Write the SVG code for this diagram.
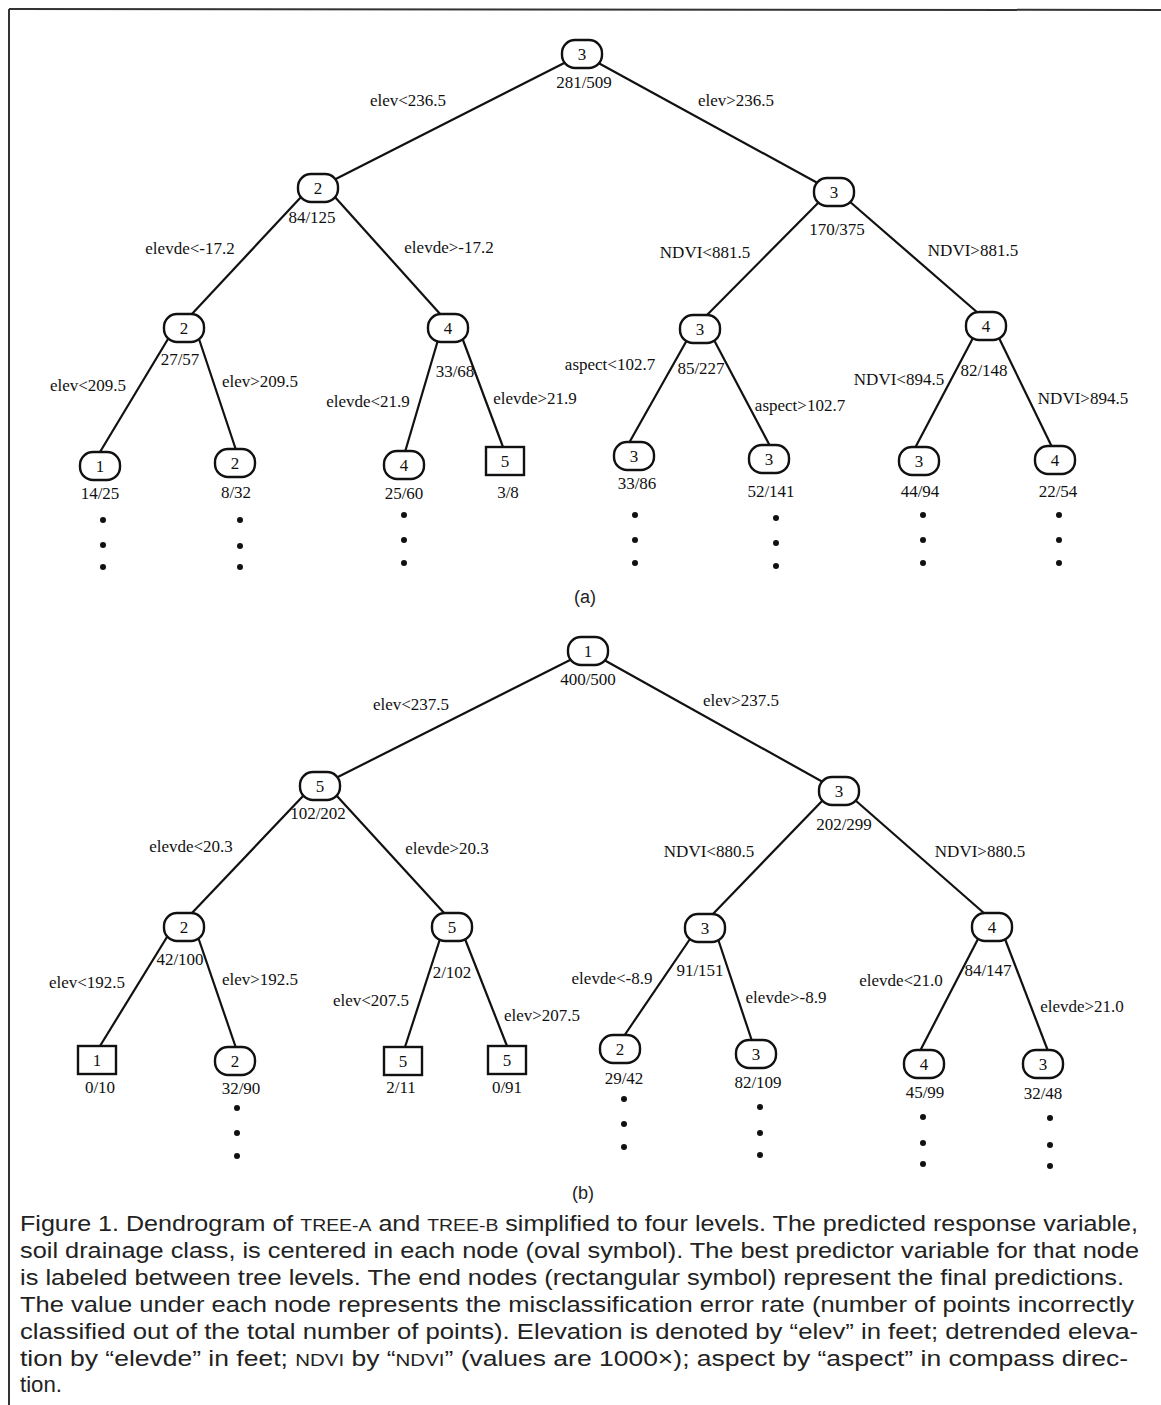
<svg xmlns="http://www.w3.org/2000/svg" width="1161" height="1405" viewBox="0 0 1161 1405">
<style>
.t{font-family:"Liberation Serif","Times New Roman",serif;font-size:17px;fill:#111;text-anchor:middle}
.d{font-family:"Liberation Serif","Times New Roman",serif;font-size:17px;fill:#111;text-anchor:middle}
.e line{stroke:#111;stroke-width:2.2}
.dots circle{fill:#111}
.cap{font-family:"Liberation Sans",Arial,sans-serif;font-size:22px;fill:#222}
.sub{font-family:"Liberation Sans",Arial,sans-serif;font-size:18px;fill:#222;text-anchor:middle}
</style>
<defs>
<rect id="ov" x="-20" y="-14" width="40" height="28" rx="13" ry="13" fill="#fff" stroke="#111" stroke-width="2.4"/>
<rect id="sq" x="-19" y="-14" width="38" height="28" fill="#fff" stroke="#111" stroke-width="2.4"/>
</defs>
<g id="frame" stroke="#333" stroke-width="2">
<line x1="9" y1="9" x2="1161" y2="10"/>
<line x1="9" y1="9" x2="9" y2="1405"/>
</g>
<g id="connectors" class="e">
<line x1="582" y1="54" x2="318" y2="188"/>
<line x1="582" y1="54" x2="834" y2="192"/>
<line x1="302" y1="196" x2="191" y2="315"/>
<line x1="334" y1="196" x2="441" y2="315"/>
<line x1="820" y1="201" x2="706" y2="316"/>
<line x1="849" y1="201" x2="978" y2="313"/>
<line x1="168" y1="339" x2="100" y2="452"/>
<line x1="199" y1="339" x2="236" y2="450"/>
<line x1="438" y1="340" x2="405" y2="452"/>
<line x1="463" y1="340" x2="503" y2="447"/>
<line x1="687" y1="340" x2="629" y2="443"/>
<line x1="714" y1="340" x2="770" y2="446"/>
<line x1="973" y1="338" x2="915" y2="448"/>
<line x1="999" y1="338" x2="1052" y2="447"/>
<line x1="588" y1="651" x2="320" y2="786"/>
<line x1="588" y1="651" x2="839" y2="791"/>
<line x1="304" y1="795" x2="191" y2="914"/>
<line x1="336" y1="795" x2="445" y2="914"/>
<line x1="823" y1="800" x2="712" y2="915"/>
<line x1="855" y1="800" x2="985" y2="914"/>
<line x1="167" y1="937" x2="100" y2="1046"/>
<line x1="198" y1="937" x2="236" y2="1048"/>
<line x1="440" y1="939" x2="405" y2="1047"/>
<line x1="465" y1="939" x2="507" y2="1046"/>
<line x1="690" y1="939" x2="624" y2="1036"/>
<line x1="718" y1="939" x2="752" y2="1041"/>
<line x1="978" y1="939" x2="920" y2="1051"/>
<line x1="1005" y1="939" x2="1048" y2="1051"/>
</g>
<g id="edge-labels" class="t">
<text x="408" y="106">elev&lt;236.5</text>
<text x="736" y="106">elev&gt;236.5</text>
<text x="190" y="254">elevde&lt;-17.2</text>
<text x="449" y="253">elevde&gt;-17.2</text>
<text x="705" y="258">NDVI&lt;881.5</text>
<text x="973" y="256">NDVI&gt;881.5</text>
<text x="88" y="391">elev&lt;209.5</text>
<text x="260" y="387">elev&gt;209.5</text>
<text x="368" y="407">elevde&lt;21.9</text>
<text x="535" y="404">elevde&gt;21.9</text>
<text x="610" y="370">aspect&lt;102.7</text>
<text x="800" y="411">aspect&gt;102.7</text>
<text x="899" y="385">NDVI&lt;894.5</text>
<text x="1083" y="404">NDVI&gt;894.5</text>
<text x="411" y="710">elev&lt;237.5</text>
<text x="741" y="706">elev&gt;237.5</text>
<text x="191" y="852">elevde&lt;20.3</text>
<text x="447" y="854">elevde&gt;20.3</text>
<text x="709" y="857">NDVI&lt;880.5</text>
<text x="980" y="857">NDVI&gt;880.5</text>
<text x="87" y="988">elev&lt;192.5</text>
<text x="260" y="985">elev&gt;192.5</text>
<text x="371" y="1006">elev&lt;207.5</text>
<text x="542" y="1021">elev&gt;207.5</text>
<text x="612" y="984">elevde&lt;-8.9</text>
<text x="786" y="1003">elevde&gt;-8.9</text>
<text x="901" y="986">elevde&lt;21.0</text>
<text x="1082" y="1012">elevde&gt;21.0</text>
</g>
<!-- Tree A nodes -->
<g id="a0"><use href="#ov" x="582" y="54"/><text class="d" x="582" y="60">3</text><text class="t" x="584" y="88">281/509</text></g>
<g id="a1"><use href="#ov" x="318" y="188"/><text class="d" x="318" y="194">2</text><text class="t" x="312" y="223">84/125</text></g>
<g id="a2"><use href="#ov" x="834" y="192"/><text class="d" x="834" y="198">3</text><text class="t" x="837" y="235">170/375</text></g>
<g id="a3"><use href="#ov" x="184" y="328"/><text class="d" x="184" y="334">2</text><text class="t" x="180" y="365">27/57</text></g>
<g id="a4"><use href="#ov" x="448" y="328"/><text class="d" x="448" y="334">4</text><text class="t" x="455" y="377">33/68</text></g>
<g id="a5"><use href="#ov" x="700" y="329"/><text class="d" x="700" y="335">3</text><text class="t" x="701" y="374">85/227</text></g>
<g id="a6"><use href="#ov" x="986" y="326"/><text class="d" x="986" y="332">4</text><text class="t" x="984" y="376">82/148</text></g>
<g id="a7"><use href="#ov" x="100" y="466"/><text class="d" x="100" y="472">1</text><text class="t" x="100" y="499">14/25</text></g>
<g id="a8"><use href="#ov" x="235" y="463"/><text class="d" x="235" y="469">2</text><text class="t" x="236" y="498">8/32</text></g>
<g id="a9"><use href="#ov" x="404" y="465"/><text class="d" x="404" y="471">4</text><text class="t" x="404" y="499">25/60</text></g>
<g id="a10"><use href="#sq" x="505" y="461"/><text class="d" x="505" y="467">5</text><text class="t" x="508" y="498">3/8</text></g>
<g id="a11"><use href="#ov" x="634" y="456"/><text class="d" x="634" y="462">3</text><text class="t" x="637" y="489">33/86</text></g>
<g id="a12"><use href="#ov" x="769" y="459"/><text class="d" x="769" y="465">3</text><text class="t" x="771" y="497">52/141</text></g>
<g id="a13"><use href="#ov" x="919" y="461"/><text class="d" x="919" y="467">3</text><text class="t" x="920" y="497">44/94</text></g>
<g id="a14"><use href="#ov" x="1055" y="460"/><text class="d" x="1055" y="466">4</text><text class="t" x="1058" y="497">22/54</text></g>
<!-- Tree B nodes -->
<g id="b0"><use href="#ov" x="588" y="651"/><text class="d" x="588" y="657">1</text><text class="t" x="588" y="685">400/500</text></g>
<g id="b1"><use href="#ov" x="320" y="786"/><text class="d" x="320" y="792">5</text><text class="t" x="318" y="819">102/202</text></g>
<g id="b2"><use href="#ov" x="839" y="791"/><text class="d" x="839" y="797">3</text><text class="t" x="844" y="830">202/299</text></g>
<g id="b3"><use href="#ov" x="184" y="927"/><text class="d" x="184" y="933">2</text><text class="t" x="180" y="965">42/100</text></g>
<g id="b4"><use href="#ov" x="452" y="927"/><text class="d" x="452" y="933">5</text><text class="t" x="452" y="978">2/102</text></g>
<g id="b5"><use href="#ov" x="705" y="928"/><text class="d" x="705" y="934">3</text><text class="t" x="700" y="976">91/151</text></g>
<g id="b6"><use href="#ov" x="992" y="927"/><text class="d" x="992" y="933">4</text><text class="t" x="988" y="976">84/147</text></g>
<g id="b7"><use href="#sq" x="97" y="1060"/><text class="d" x="97" y="1066">1</text><text class="t" x="100" y="1093">0/10</text></g>
<g id="b8"><use href="#ov" x="235" y="1061"/><text class="d" x="235" y="1067">2</text><text class="t" x="241" y="1094">32/90</text></g>
<g id="b9"><use href="#sq" x="403" y="1061"/><text class="d" x="403" y="1067">5</text><text class="t" x="401" y="1093">2/11</text></g>
<g id="b10"><use href="#sq" x="507" y="1060"/><text class="d" x="507" y="1066">5</text><text class="t" x="507" y="1093">0/91</text></g>
<g id="b11"><use href="#ov" x="620" y="1049"/><text class="d" x="620" y="1055">2</text><text class="t" x="624" y="1084">29/42</text></g>
<g id="b12"><use href="#ov" x="756" y="1054"/><text class="d" x="756" y="1060">3</text><text class="t" x="758" y="1088">82/109</text></g>
<g id="b13"><use href="#ov" x="924" y="1064"/><text class="d" x="924" y="1070">4</text><text class="t" x="925" y="1098">45/99</text></g>
<g id="b14"><use href="#ov" x="1043" y="1064"/><text class="d" x="1043" y="1070">3</text><text class="t" x="1043" y="1099">32/48</text></g>
<g id="dots" class="dots">
<circle cx="103" cy="520" r="3"/><circle cx="103" cy="545" r="3"/><circle cx="103" cy="567" r="3"/>
<circle cx="240" cy="520" r="3"/><circle cx="240" cy="546" r="3"/><circle cx="240" cy="567" r="3"/>
<circle cx="404" cy="515" r="3"/><circle cx="404" cy="540" r="3"/><circle cx="404" cy="563" r="3"/>
<circle cx="635" cy="515" r="3"/><circle cx="635" cy="540" r="3"/><circle cx="635" cy="563" r="3"/>
<circle cx="776" cy="518" r="3"/><circle cx="776" cy="543" r="3"/><circle cx="776" cy="566" r="3"/>
<circle cx="923" cy="515" r="3"/><circle cx="923" cy="540" r="3"/><circle cx="923" cy="563" r="3"/>
<circle cx="1059" cy="515" r="3"/><circle cx="1059" cy="540" r="3"/><circle cx="1059" cy="563" r="3"/>
<circle cx="237" cy="1108" r="3"/><circle cx="237" cy="1133" r="3"/><circle cx="237" cy="1156" r="3"/>
<circle cx="624" cy="1099" r="3"/><circle cx="624" cy="1124" r="3"/><circle cx="624" cy="1147" r="3"/>
<circle cx="760" cy="1107" r="3"/><circle cx="760" cy="1133" r="3"/><circle cx="760" cy="1155" r="3"/>
<circle cx="923" cy="1117" r="3"/><circle cx="923" cy="1143" r="3"/><circle cx="923" cy="1164" r="3"/>
<circle cx="1050" cy="1118" r="3"/><circle cx="1050" cy="1145" r="3"/><circle cx="1050" cy="1166" r="3"/>
</g>
<g id="panel-labels" class="sub">
<text x="585" y="603">(a)</text>
<text x="583" y="1199">(b)</text>
</g>
<g id="caption" class="cap">
<text x="20" y="1231" textLength="1118" lengthAdjust="spacingAndGlyphs">Figure 1. Dendrogram of <tspan font-size="17">TREE-A</tspan> and <tspan font-size="17">TREE-B</tspan> simplified to four levels. The predicted response variable,</text>
<text x="20" y="1258" textLength="1119" lengthAdjust="spacingAndGlyphs">soil drainage class, is centered in each node (oval symbol). The best predictor variable for that node</text>
<text x="20" y="1285" textLength="1104" lengthAdjust="spacingAndGlyphs">is labeled between tree levels. The end nodes (rectangular symbol) represent the final predictions.</text>
<text x="20" y="1312" textLength="1114" lengthAdjust="spacingAndGlyphs">The value under each node represents the misclassification error rate (number of points incorrectly</text>
<text x="20" y="1339" textLength="1118" lengthAdjust="spacingAndGlyphs">classified out of the total number of points). Elevation is denoted by “elev” in feet; detrended eleva-</text>
<text x="20" y="1366" textLength="1108" lengthAdjust="spacingAndGlyphs">tion by “elevde” in feet; <tspan font-size="17">NDVI</tspan> by “<tspan font-size="17">NDVI</tspan>” (values are 1000×); aspect by “aspect” in compass direc-</text>
<text x="20" y="1392" textLength="42" lengthAdjust="spacingAndGlyphs">tion.</text>
</g>
</svg>
